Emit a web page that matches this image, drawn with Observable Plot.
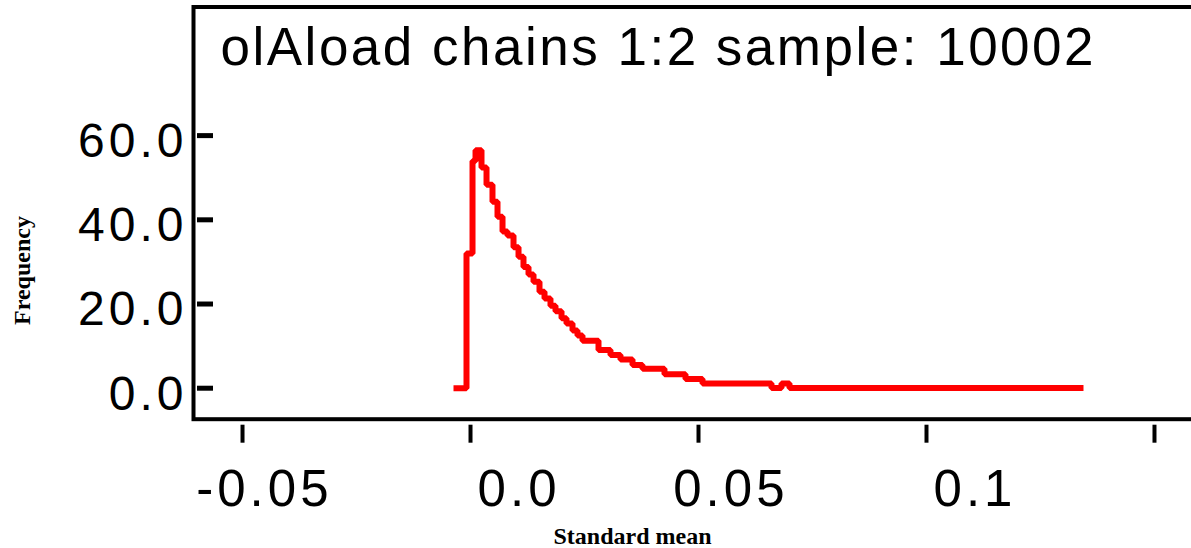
<!DOCTYPE html>
<html><head><meta charset="utf-8">
<script src="https://cdn.jsdelivr.net/npm/d3@7"></script>
<script src="https://cdn.jsdelivr.net/npm/@observablehq/plot@0.6"></script>
<style>body{margin:0;background:#fff;overflow:hidden}</style>
</head><body><div id="chart"></div>
<script>
const titleText = "olAload chains 1:2 sample: 10002";
const xLabel = "Standard mean";
const yLabel = "Frequency";
const xTicks = [-0.05, 0, 0.05, 0.1, 0.15];
const xTickLabels = ["-0.05", "0.0", "0.05", "0.1", ""];
const yTicks = [0, 20, 40, 60];
const yTickLabels = ["0.0", "20.0", "40.0", "60.0"];

// estimated density steps (x = standard mean, y = frequency)
const sampleX = [-0.00373, -0.00088, 0.00044, 0.00110, 0.00241, 0.00351, 0.00482, 0.00592,
  0.00702, 0.00811, 0.00943, 0.01053, 0.01162, 0.01272, 0.01382, 0.01513, 0.01623, 0.01754,
  0.01864, 0.01996, 0.02105, 0.02237, 0.02346, 0.02456, 0.02807, 0.03070, 0.03289, 0.03553,
  0.03772, 0.04254, 0.04715, 0.05088, 0.06601, 0.06820, 0.06996, 0.13443];
const frequency = [0, 32, 54, 56.5, 52.4, 48.3, 44.3, 40.7,
  37.2, 36.3, 33.5, 31.2, 28.8, 27.0, 25.3, 22.9, 21.3, 19.6,
  18.3, 16.6, 15.4, 13.7, 12.5, 11.3, 9.1, 7.9, 6.8, 5.5,
  4.6, 3.3, 2.2, 1.1, 0.05, 1.1, 0.05, 0.05];

const data = sampleX.map((x, i) => ({x, y: frequency[i]}));

const chart = Plot.plot({
  width: 1191,
  height: 548,
  marginLeft: 193,
  marginRight: -10,
  marginTop: 6.5,
  marginBottom: 129.3,
  x: {domain: [-0.06075, 0.16031]},
  y: {domain: [-7.36, 90.55]},
  style: {fontFamily: "'Liberation Sans', Arial, sans-serif", background: "white", color: "black"},
  marks: [
    Plot.frame({stroke: "black", strokeWidth: 4}),
    Plot.axisY(yTicks, {tickSize: -16, dx: 4, strokeWidth: 5, fill: "none", label: null}),
    Plot.axisY(yTicks, {tickSize: 0, tickPadding: 6, dy: 6, fontSize: 48, stroke: "none",
      tickFormat: d => yTickLabels[yTicks.indexOf(d)], label: null}),
    Plot.axisX(xTicks, {tickSize: 18, dy: 6, strokeWidth: 4, fill: "none", label: null}),
    Plot.axisX(xTicks, {tickSize: 0, tickPadding: 51, dx: 90, textAnchor: "end", fontSize: 51, stroke: "none",
      tickFormat: d => xTickLabels[xTicks.indexOf(d)], label: null}),
    Plot.line(data, {x: "x", y: "y", curve: "step-after", stroke: "#ff0000", strokeWidth: 6,
      strokeLinejoin: "miter", strokeLinecap: "butt"}),
    Plot.text([titleText], {text: d => d, frameAnchor: "top-left", textAnchor: "start", lineAnchor: "middle",
      dx: 27, dy: 41.5, fontSize: 53}),
    Plot.text([yLabel], {text: d => d, frameAnchor: "left", rotate: -90, textAnchor: "middle", lineAnchor: "middle",
      dx: -171, dy: 57.4, fontSize: 24, fontWeight: "bold", fontFamily: "'Liberation Serif', 'Times New Roman', serif"}),
    Plot.text([xLabel], {text: d => d, frameAnchor: "bottom", textAnchor: "middle", lineAnchor: "middle",
      dx: -65, dy: 117, fontSize: 24, fontWeight: "bold", fontFamily: "'Liberation Serif', 'Times New Roman', serif"})
  ]
});
d3.select(chart).selectAll('g[aria-label="y-axis tick label"] text, g[aria-label="x-axis tick label"] text')
  .attr("letter-spacing", "4px");
d3.select(chart).selectAll('g[aria-label="text"]').filter((d, i) => i === 0).selectAll("text").attr("letter-spacing", "2.5px");
document.getElementById("chart").append(chart);
</script>
</body></html>
